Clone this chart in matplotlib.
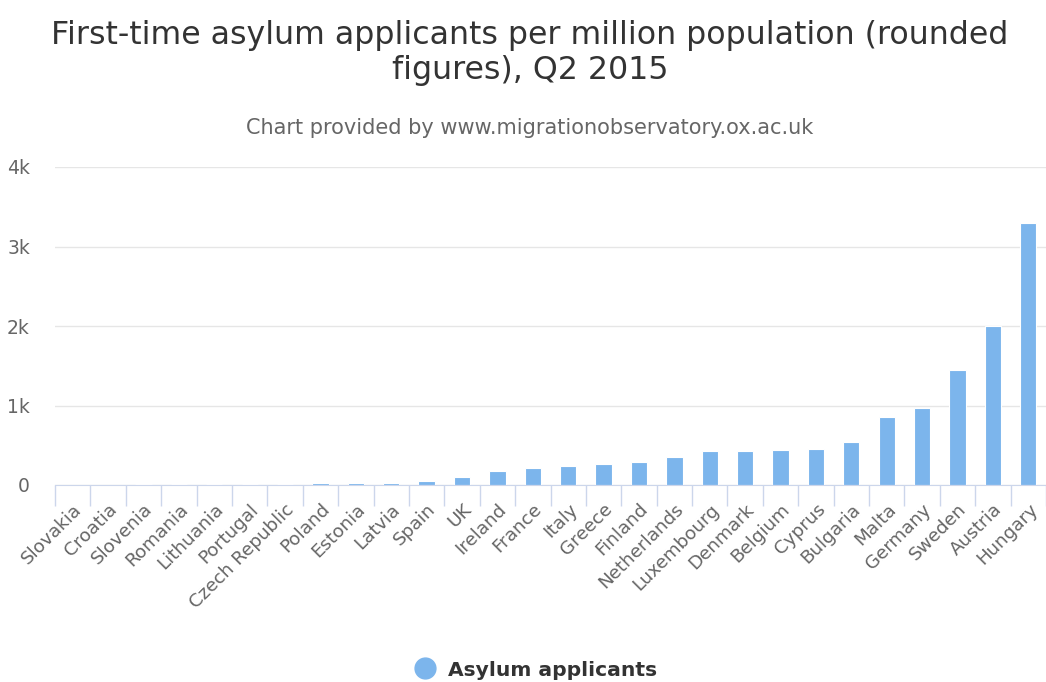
import numpy as np
import matplotlib
matplotlib.use("Agg")
import matplotlib.pyplot as plt
from matplotlib.lines import Line2D

countries = ["Slovakia", "Croatia", "Slovenia", "Romania", "Lithuania", "Portugal",
             "Czech Republic", "Poland", "Estonia", "Latvia", "Spain", "UK", "Ireland",
             "France", "Italy", "Greece", "Finland", "Netherlands", "Luxembourg",
             "Denmark", "Belgium", "Cyprus", "Bulgaria", "Malta", "Germany", "Sweden",
             "Austria", "Hungary"]
applicants = [2, 3, 8, 8, 8, 8, 8, 30, 30, 30, 55, 100, 170,
              215, 240, 265, 290, 355, 425,
              425, 445, 450, 540, 855, 970, 1450,
              2000, 3290]
yticks = [0, 1000, 2000, 3000, 4000]
ytick_labels = ["0", "1k", "2k", "3k", "4k"]

bar_color = "#7cb5ec"
label_color = "#666666"

fig = plt.figure(figsize=(10.46, 6.82), dpi=100)
ax = fig.add_axes([55 / 1046, 197 / 682, 991 / 1046, 318 / 682])

x = np.arange(len(countries))
ax.bar(x, applicants, width=0.46, color=bar_color, edgecolor="white", linewidth=0.8, zorder=3)

ax.set_xlim(-0.5, len(countries) - 0.5)
ax.set_ylim(0, 4000)
ax.set_yticks(yticks)
ax.set_yticklabels(ytick_labels)
ax.yaxis.grid(True, color="#e6e6e6", linewidth=1)
ax.set_axisbelow(True)

ax.set_xticks(x)
ax.set_xticklabels(countries, rotation=45, ha="right", rotation_mode="anchor")
ax.set_xticks(np.arange(len(countries) + 1) - 0.5, minor=True)
ax.tick_params(axis="x", which="major", length=0, pad=11, labelsize=13.2, labelcolor=label_color)
ax.tick_params(axis="x", which="minor", length=15, color="#ccd6eb", width=1)
ax.tick_params(axis="y", length=0, pad=18, labelsize=13.5, labelcolor=label_color)

for s in ["top", "right", "left"]:
    ax.spines[s].set_visible(False)
ax.spines["bottom"].set_color("#ccd6eb")
ax.spines["bottom"].set_zorder(4)

fig.text(530 / 1046, 1 - 53 / 682, "First-time asylum applicants per million population (rounded\nfigures), Q2 2015",
         ha="center", va="center", fontsize=22.8, color="#333333", linespacing=1.2)
fig.text(530 / 1046, 1 - 128 / 682, "Chart provided by www.migrationobservatory.ox.ac.uk",
         ha="center", va="center", fontsize=15, color=label_color)

handle = Line2D([], [], marker="o", linestyle="none", markersize=15, color=bar_color)
fig.legend([handle], ["Asylum applicants"], loc="center", bbox_to_anchor=(531 / 1046, 1 - 670 / 682),
           frameon=False, prop={"weight": "bold", "size": 14.6}, labelcolor="#333333",
           handletextpad=0.15)

fig.savefig("out.png", dpi=100)
